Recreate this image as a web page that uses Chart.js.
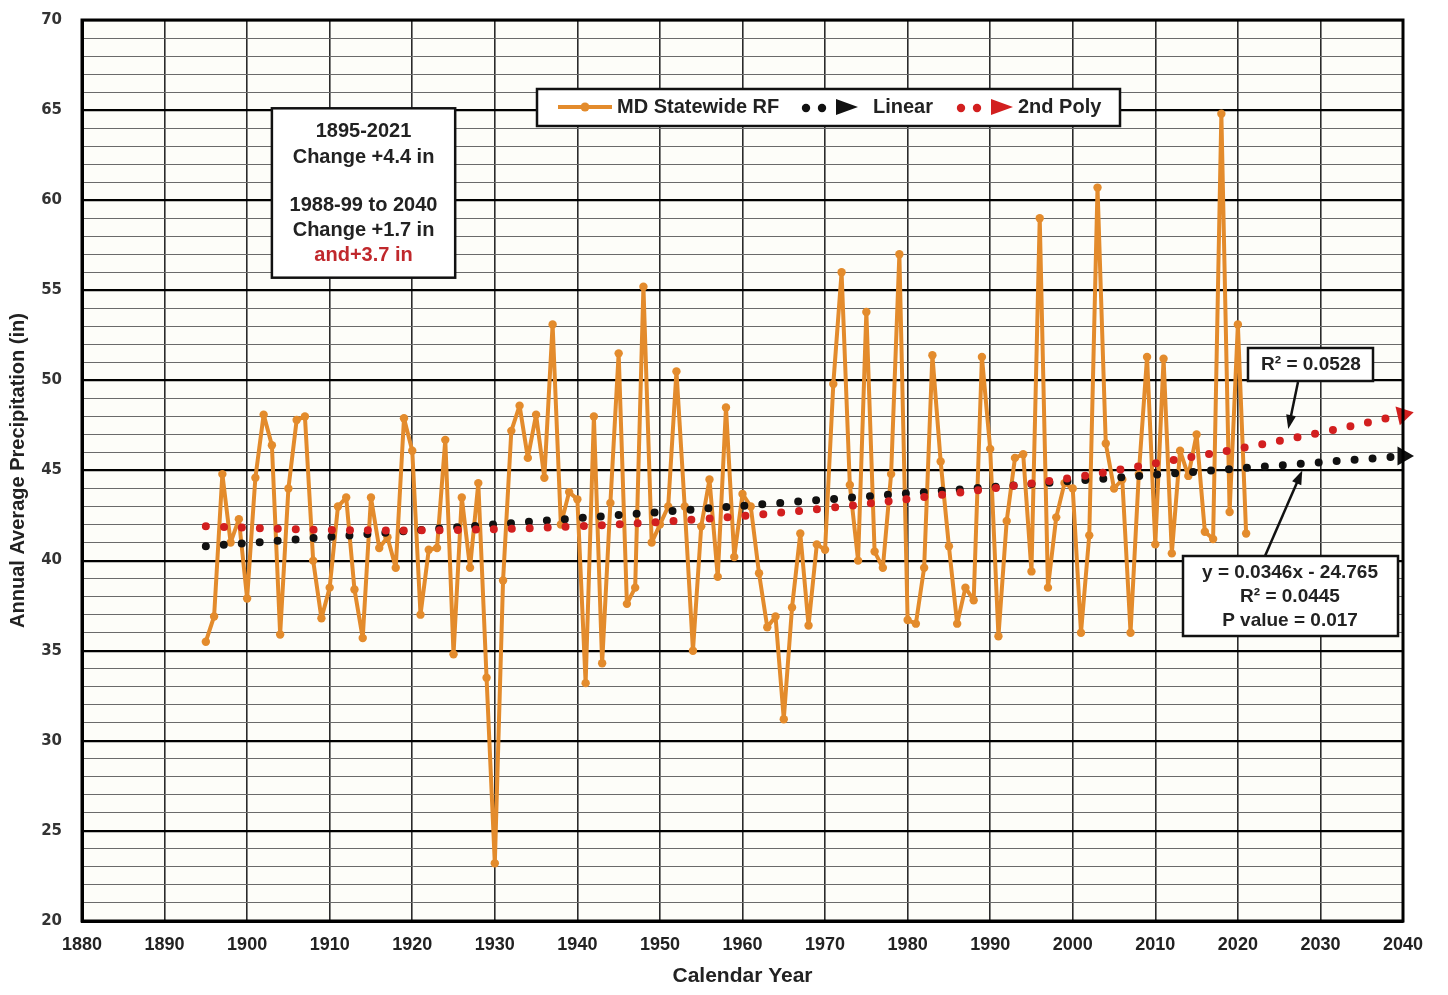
<!DOCTYPE html>
<html>
<head>
<meta charset="utf-8">
<title>MD Statewide Annual Precipitation</title>
<script src="https://cdn.jsdelivr.net/npm/chart.js@4.4.1/dist/chart.umd.min.js"></script>
<style>
  html, body { margin: 0; padding: 0; background: #fff; }
</style>
</head>
<body>
<canvas id="rain" width="1448" height="995"></canvas>
<script>
// annual values
const years = [
  1895, 1896, 1897, 1898, 1899, 1900, 1901, 1902, 1903, 1904,
  1905, 1906, 1907, 1908, 1909, 1910, 1911, 1912, 1913, 1914,
  1915, 1916, 1917, 1918, 1919, 1920, 1921, 1922, 1923, 1924,
  1925, 1926, 1927, 1928, 1929, 1930, 1931, 1932, 1933, 1934,
  1935, 1936, 1937, 1938, 1939, 1940, 1941, 1942, 1943, 1944,
  1945, 1946, 1947, 1948, 1949, 1950, 1951, 1952, 1953, 1954,
  1955, 1956, 1957, 1958, 1959, 1960, 1961, 1962, 1963, 1964,
  1965, 1966, 1967, 1968, 1969, 1970, 1971, 1972, 1973, 1974,
  1975, 1976, 1977, 1978, 1979, 1980, 1981, 1982, 1983, 1984,
  1985, 1986, 1987, 1988, 1989, 1990, 1991, 1992, 1993, 1994,
  1995, 1996, 1997, 1998, 1999, 2000, 2001, 2002, 2003, 2004,
  2005, 2006, 2007, 2008, 2009, 2010, 2011, 2012, 2013, 2014,
  2015, 2016, 2017, 2018, 2019, 2020, 2021
]
const rainfall = [
  35.5, 36.9, 44.8, 41.0, 42.3, 37.9, 44.6, 48.1, 46.4, 35.9,
  44.0, 47.8, 48.0, 40.0, 36.8, 38.5, 43.0, 43.5, 38.4, 35.7,
  43.5, 40.7, 41.3, 39.6, 47.9, 46.1, 37.0, 40.6, 40.7, 46.7,
  34.8, 43.5, 39.6, 44.3, 33.5, 23.2, 38.9, 47.2, 48.6, 45.7,
  48.1, 44.6, 53.1, 42.0, 43.8, 43.4, 33.2, 48.0, 34.3, 43.2,
  51.5, 37.6, 38.5, 55.2, 41.0, 42.0, 43.0, 50.5, 43.0, 35.0,
  41.9, 44.5, 39.1, 48.5, 40.2, 43.7, 43.0, 39.3, 36.3, 36.9,
  31.2, 37.4, 41.5, 36.4, 40.9, 40.6, 49.8, 56.0, 44.2, 40.0,
  53.8, 40.5, 39.6, 44.8, 57.0, 36.7, 36.5, 39.6, 51.4, 45.5,
  40.8, 36.5, 38.5, 37.8, 51.3, 46.2, 35.8, 42.2, 45.7, 45.9,
  39.4, 59.0, 38.5, 42.4, 44.3, 44.0, 36.0, 41.4, 60.7, 46.5,
  44.0, 44.5, 36.0, 44.8, 51.3, 40.9, 51.2, 40.4, 46.1, 44.7,
  47.0, 41.6, 41.2, 64.8, 42.7, 53.1, 41.5
]

// trend lines
const linearYears = [1895, 2040]
const linearValues = [40.8, 45.8]
const polyYears = [1895, 1910, 1925, 1940, 1955, 1970, 1985, 2000, 2010, 2020, 2030, 2040]
const polyValues = [41.9, 41.7, 41.7, 41.9, 42.3, 42.9, 43.7, 44.6, 45.4, 46.2, 47.1, 48.1]

const yearTicks = [1880, 1890, 1900, 1910, 1920, 1930, 1940, 1950, 1960, 1970, 1980, 1990, 2000, 2010, 2020, 2030, 2040]
const rainTicks = [20, 25, 30, 35, 40, 45, 50, 55, 60, 65, 70]

const ORANGE = "#e38b2c"
const RED = "#d21f1f"
const FONT = "'Liberation Sans', Arial, sans-serif"

const toPoints = (xs, ys) => xs.map((x, i) => ({ x: x, y: ys[i] }))
const arrowAtEnd = (arr, size) => arr.map((_, i) => i === arr.length - 1 ? size : 0)

// plot background + outer frame
const frame = {
  id: "frame",
  beforeDraw(chart) {
    const { ctx, chartArea: a } = chart
    ctx.save()
    ctx.fillStyle = "#fdfdf9"
    ctx.fillRect(a.left, a.top, a.right - a.left, a.bottom - a.top)
    ctx.restore()
  },
  afterDraw(chart) {
    const { ctx, chartArea: a } = chart
    ctx.save()
    ctx.strokeStyle = "#000"
    ctx.lineWidth = 3
    ctx.strokeRect(a.left, a.top, a.right - a.left, a.bottom - a.top)
    ctx.restore()
  }
}

function textBox(ctx, l, t, r, b) {
  ctx.fillStyle = "#fff"
  ctx.fillRect(l, t, r - l, b - t)
  ctx.strokeStyle = "#111"
  ctx.lineWidth = 2.5
  ctx.strokeRect(l, t, r - l, b - t)
}

function arrow(ctx, x1, y1, x2, y2) {
  const ang = Math.atan2(y2 - y1, x2 - x1)
  ctx.strokeStyle = "#111"
  ctx.fillStyle = "#111"
  ctx.lineWidth = 2.5
  ctx.beginPath()
  ctx.moveTo(x1, y1)
  ctx.lineTo(x2 - 8 * Math.cos(ang), y2 - 8 * Math.sin(ang))
  ctx.stroke()
  ctx.beginPath()
  ctx.moveTo(x2, y2)
  ctx.lineTo(x2 - 14 * Math.cos(ang) + 5 * Math.sin(ang), y2 - 14 * Math.sin(ang) - 5 * Math.cos(ang))
  ctx.lineTo(x2 - 14 * Math.cos(ang) - 5 * Math.sin(ang), y2 - 14 * Math.sin(ang) + 5 * Math.cos(ang))
  ctx.closePath()
  ctx.fill()
}

const notes = {
  id: "notes",
  afterDraw(chart) {
    const { ctx } = chart
    const x = chart.scales.x
    const y = chart.scales.y
    const px = v => x.getPixelForValue(v)
    const py = v => y.getPixelForValue(v)
    ctx.save()
    ctx.textBaseline = "middle"

    // change box
    textBox(ctx, px(1903), py(65.1), px(1925.2), py(55.7))
    ctx.textAlign = "center"
    ctx.font = "bold 20px " + FONT
    ctx.fillStyle = "#222"
    const cx = px(1914.1)
    ctx.fillText("1895-2021", cx, 131)
    ctx.fillText("Change +4.4 in", cx, 157)
    ctx.fillText("1988-99 to 2040", cx, 205)
    ctx.fillText("Change +1.7 in", cx, 230)
    ctx.fillStyle = "#c0282c"
    ctx.fillText("and+3.7 in", cx, 255)

    // legend
    textBox(ctx, 537, 89, 1120, 126)
    ctx.strokeStyle = ORANGE
    ctx.lineWidth = 4
    ctx.beginPath()
    ctx.moveTo(558, 107)
    ctx.lineTo(612, 107)
    ctx.stroke()
    ctx.fillStyle = ORANGE
    ctx.beginPath()
    ctx.arc(585, 107, 4.5, 0, Math.PI * 2)
    ctx.fill()
    ctx.textAlign = "left"
    ctx.font = "bold 20px " + FONT
    ctx.fillStyle = "#222"
    ctx.fillText("MD Statewide RF", 617, 107)
    ctx.fillText("Linear", 873, 107)
    ctx.fillText("2nd Poly", 1018, 107)
    const legendTrend = (x0, color) => {
      ctx.fillStyle = color
      for (const dx of [0, 16]) {
        ctx.beginPath()
        ctx.arc(x0 + dx, 108, 4.2, 0, Math.PI * 2)
        ctx.fill()
      }
      ctx.beginPath()
      ctx.moveTo(x0 + 30, 99)
      ctx.lineTo(x0 + 52, 107)
      ctx.lineTo(x0 + 30, 115)
      ctx.closePath()
      ctx.fill()
    }
    legendTrend(806, "#111")
    legendTrend(961, RED)

    // poly fit R2
    textBox(ctx, 1248, 348, 1373, 381)
    ctx.textAlign = "center"
    ctx.fillStyle = "#222"
    ctx.font = "bold 19px " + FONT
    ctx.fillText("R\u00b2 = 0.0528", 1311, 365)
    arrow(ctx, 1298, 382, px(2026.1), py(47.3))

    // linear fit stats
    textBox(ctx, 1183, 556, 1398, 636)
    ctx.fillStyle = "#222"
    ctx.fillText("y = 0.0346x - 24.765", 1290, 573)
    ctx.fillText("R\u00b2 = 0.0445", 1290, 597)
    ctx.fillText("P value = 0.017", 1290, 621)
    arrow(ctx, 1265, 556, px(2027.8), py(45.0))

    ctx.restore()
  }
}

new Chart(document.getElementById("rain"), {
  type: "line",
  data: {
    datasets: [
      {
        label: "2nd Poly",
        data: toPoints(polyYears, polyValues),
        borderColor: RED,
        backgroundColor: RED,
        borderWidth: 8,
        borderDash: [0, 18],
        borderCapStyle: "round",
        tension: 0.35,
        pointStyle: "triangle",
        pointRotation: 77,
        pointRadius: arrowAtEnd(polyValues, 11),
        pointBorderWidth: 0,
        clip: false,
        order: 1
      },
      {
        label: "Linear",
        data: toPoints(linearYears, linearValues),
        borderColor: "#111",
        backgroundColor: "#111",
        borderWidth: 8,
        borderDash: [0, 18],
        borderCapStyle: "round",
        pointStyle: "triangle",
        pointRotation: 90,
        pointRadius: arrowAtEnd(linearValues, 11),
        pointBorderWidth: 0,
        clip: false,
        order: 2
      },
      {
        label: "MD Statewide RF",
        data: toPoints(years, rainfall),
        borderColor: ORANGE,
        backgroundColor: ORANGE,
        borderWidth: 4,
        borderJoinStyle: "round",
        pointRadius: 4.2,
        pointBorderWidth: 0,
        tension: 0,
        order: 3
      }
    ]
  },
  options: {
    responsive: false,
    animation: false,
    layout: { padding: { top: 20, right: 45, left: 0, bottom: 0 } },
    plugins: {
      legend: { display: false },
      tooltip: { enabled: false }
    },
    scales: {
      x: {
        type: "linear",
        min: 1880,
        max: 2040,
        afterFit: s => { s.height = 74 },
        afterBuildTicks: s => { s.ticks = yearTicks.map(v => ({ value: v })) },
        ticks: {
          color: "#222",
          padding: 13,
          maxRotation: 0,
          autoSkip: false,
          font: { family: FONT, size: 18, weight: "bold" },
          callback: v => String(v)
        },
        grid: { color: "#2a2a2a", lineWidth: 1.6, drawTicks: false },
        border: { color: "#000", width: 3 },
        title: {
          display: true,
          text: "Calendar Year",
          color: "#222",
          font: { family: FONT, size: 21, weight: "bold" },
          padding: { top: 0, bottom: 6 }
        }
      },
      y: {
        min: 20,
        max: 70,
        afterFit: s => {
          s.width = 82
          s.paddingTop = 0
          s.paddingBottom = 0
        },
        ticks: {
          stepSize: 1,
          autoSkip: false,
          color: "#333",
          padding: 20,
          font: { family: "'DejaVu Sans', sans-serif", size: 15, weight: "bold" },
          callback: v => rainTicks.includes(v) ? v : ""
        },
        grid: {
          drawTicks: false,
          color: c => c.tick && c.tick.value % 5 === 0 ? "#000" : "#6a6a6a",
          lineWidth: c => c.tick && c.tick.value % 5 === 0 ? 2.2 : 1
        },
        border: { color: "#000", width: 3 },
        title: {
          display: true,
          text: "Annual Average Precipitation (in)",
          color: "#222",
          font: { family: FONT, size: 20, weight: "bold" },
          padding: { top: 6, bottom: 0 }
        }
      }
    }
  },
  plugins: [frame, notes]
})
</script>
</body>
</html>
